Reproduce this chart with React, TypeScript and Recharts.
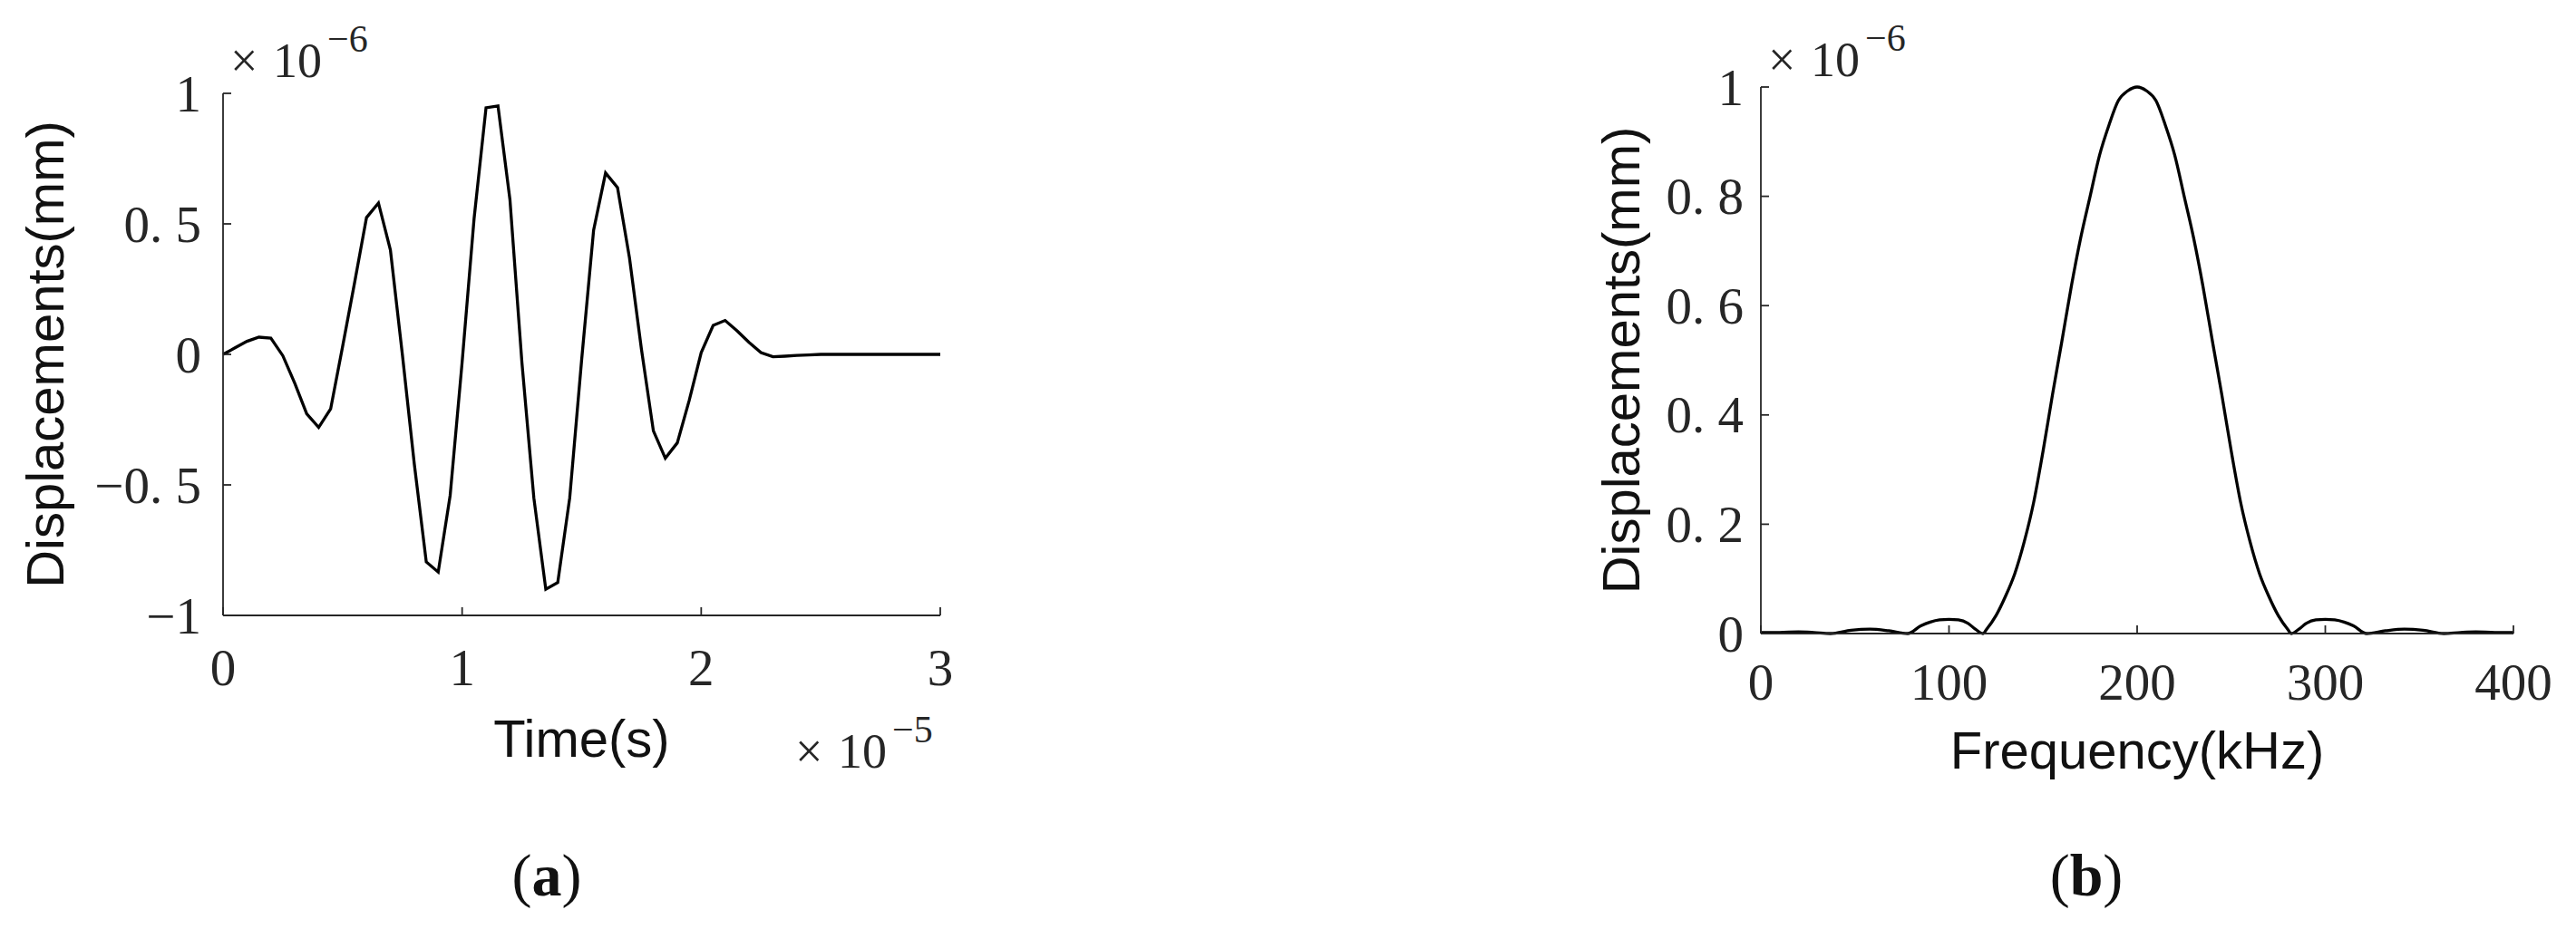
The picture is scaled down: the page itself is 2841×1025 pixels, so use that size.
import React from 'react'
import { LineChart, Line, XAxis, YAxis, Label } from 'recharts'

// (a) time signal: time in 1e-5 s, displacement in 1e-6 mm
const timeSteps = [
  0, 0.05, 0.1, 0.15, 0.2, 0.25, 0.3, 0.35, 0.4, 0.45, 0.5, 0.55, 0.6, 0.65, 0.7, 0.75, 0.8, 0.85, 0.9, 0.95,
  1, 1.05, 1.1, 1.15, 1.2, 1.25, 1.3, 1.35, 1.4, 1.45, 1.5, 1.55, 1.6, 1.65, 1.7, 1.75, 1.8, 1.85, 1.9, 1.95,
  2, 2.05, 2.1, 2.15, 2.2, 2.25, 2.3, 2.35, 2.4, 2.45, 2.5, 3,
]
const displacement = [
  0, 0.025, 0.05, 0.066, 0.062, -0.005, -0.111, -0.228, -0.28, -0.209, 0.03, 0.274, 0.524, 0.58, 0.4, 0.0, -0.42, -0.795, -0.834, -0.54,
  -0.03, 0.52, 0.945, 0.952, 0.593, -0.03, -0.55, -0.9, -0.874, -0.55, -0.02, 0.476, 0.695, 0.639, 0.37, 0.02, -0.293, -0.398, -0.339, -0.176,
  0.007, 0.111, 0.13, 0.09, 0.046, 0.007, -0.009, -0.007, -0.004, -0.002, 0, 0,
]

// (b) spectrum: frequency in kHz, amplitude in 1e-6 mm
const freqKHz = [
  0, 10, 20, 28, 37, 48, 58, 68, 78, 85, 90, 95, 100, 105, 110, 114, 118, 120, 125, 130, 135, 140, 145, 150, 155, 160,
  165, 170, 175, 180, 185, 190, 195, 200, 205, 210, 215, 220, 225, 230, 235, 240, 245, 250, 255, 260, 265, 270, 275,
  280, 282, 286, 290, 295, 300, 305, 310, 315, 322, 332, 342, 352, 363, 372, 380, 390, 400,
]
const amplitude = [
  0.002, 0.002, 0.003, 0.002, 0, 0.006, 0.008, 0.005, 0, 0.014, 0.021, 0.025, 0.026, 0.025, 0.019, 0.008, 0, 0.008, 0.033, 0.068, 0.11, 0.168, 0.24, 0.334, 0.437, 0.535,
  0.635, 0.724, 0.8, 0.875, 0.93, 0.975, 0.993, 1.0, 0.993, 0.975, 0.93, 0.875, 0.8, 0.724, 0.635, 0.535, 0.437, 0.334, 0.24, 0.168, 0.11, 0.068, 0.033,
  0.008, 0, 0.008, 0.019, 0.025, 0.026, 0.025, 0.021, 0.014, 0, 0.005, 0.008, 0.006, 0, 0.002, 0.003, 0.002, 0.002,
]

const timeTicks = [0, 1, 2, 3]
const dispTicks = [-1, -0.5, 0, 0.5, 1]
const freqTicks = [0, 100, 200, 300, 400]
const ampTicks = [0, 0.2, 0.4, 0.6, 0.8, 1]

const timeData = timeSteps.map((t, i) => ({ t, disp: displacement[i] }))
const freqData = freqKHz.map((f, i) => ({ f, amp: amplitude[i] }))

const INK = '#262626'
const TICK = 9
const serif = '"Liberation Serif", "Times New Roman", serif'
const sans = '"Liberation Sans", Arial, sans-serif'

// matlab-ish labels: "0. 5", "−0. 5"
const fmtTick = (v: number) => {
  if (v === 0) return '0'
  const a = Math.abs(v)
  const s = a === 1 ? '1' : `0. ${Math.round(a * 10)}`
  return v < 0 ? `\u2212${s}` : s
}

// ticks point inward like matlab, label sits at (x, y) given by recharts
const bottomTick = (gap: number) => (p: any) => (
  <g>
    <line x1={p.x} x2={p.x} y1={p.y - gap} y2={p.y - gap - TICK} stroke={INK} strokeWidth={1.8} />
    <text x={p.x} y={p.y} textAnchor="middle" dominantBaseline="central" fontFamily={serif} fontSize={57} fill={INK}>
      {String(p.payload.value)}
    </text>
  </g>
)
const topTick = (p: any) => <line x1={p.x} x2={p.x} y1={p.y} y2={p.y + TICK} stroke={INK} strokeWidth={1.8} />
const leftTick = (gap: number) => (p: any) => (
  <g>
    <line x1={p.x + gap} x2={p.x + gap + TICK} y1={p.y} y2={p.y} stroke={INK} strokeWidth={1.8} />
    <text x={p.x} y={p.y} textAnchor="end" dominantBaseline="central" fontFamily={serif} fontSize={57} fill={INK}>
      {fmtTick(p.payload.value)}
    </text>
  </g>
)
const rightTick = (p: any) => <line x1={p.x} x2={p.x - TICK} y1={p.y} y2={p.y} stroke={INK} strokeWidth={1.8} />

const xTitle = (text: string, dy: number) => (props: any) => {
  const vb = props.viewBox
  return (
    <text x={vb.x + vb.width / 2} y={vb.y + dy} textAnchor="middle" fontFamily={sans} fontSize={58} fill="#111">
      {text}
    </text>
  )
}
const yTitle = (text: string, dx: number) => (props: any) => {
  const vb = props.viewBox
  const x = vb.x + vb.width + dx
  const y = vb.y + vb.height / 2
  return (
    <text x={x} y={y} transform={`rotate(-90 ${x} ${y})`} textAnchor="middle" fontFamily={sans} fontSize={58} fill="#111">
      {text}
    </text>
  )
}

const axisLine = { stroke: INK, strokeWidth: 1.8 }

function TimePanel() {
  return (
    <LineChart width={1100} height={900} data={timeData} margin={{ top: 103, right: 63, bottom: 121, left: 146 }}>
      <XAxis xAxisId="b" dataKey="t" type="number" domain={[0, 3]} ticks={timeTicks} interval={0} height={100}
        tickSize={0} tickMargin={57} tickLine={false} axisLine={axisLine} tick={bottomTick(57)}>
        <Label content={xTitle('Time(s)', 156)} />
      </XAxis>
      <XAxis xAxisId="t" orientation="top" dataKey="t" type="number" domain={[0, 3]} ticks={timeTicks} interval={0} height={0}
        tickSize={0} tickMargin={0} tickLine={false} axisLine={axisLine} tick={topTick} allowDataOverflow />
      <YAxis yAxisId="l" type="number" domain={[-1, 1]} ticks={dispTicks} interval={0} width={100}
        tickSize={0} tickMargin={24} tickLine={false} axisLine={axisLine} tick={leftTick(24)}>
        <Label content={yTitle('Displacements(mm)', -176)} />
      </YAxis>
      <YAxis yAxisId="r" orientation="right" type="number" domain={[-1, 1]} ticks={dispTicks} interval={0} width={0}
        tickSize={0} tickMargin={0} tickLine={false} axisLine={axisLine} tick={rightTick} allowDataOverflow />
      <Line xAxisId="b" yAxisId="l" type="linear" dataKey="disp" stroke="#000" strokeWidth={3.3}
        dot={false} isAnimationActive={false} />
    </LineChart>
  )
}

function SpectrumPanel() {
  return (
    <LineChart width={1141} height={900} data={freqData} margin={{ top: 96, right: 69, bottom: 101, left: 142 }}>
      <XAxis xAxisId="b" dataKey="f" type="number" domain={[0, 400]} ticks={freqTicks} interval={0} height={100}
        tickSize={0} tickMargin={53} tickLine={false} axisLine={axisLine} tick={bottomTick(53)}>
        <Label content={xTitle('Frequency(kHz)', 149)} />
      </XAxis>
      <XAxis xAxisId="t" orientation="top" dataKey="f" type="number" domain={[0, 400]} ticks={freqTicks} interval={0} height={0}
        tickSize={0} tickMargin={0} tickLine={false} axisLine={axisLine} tick={topTick} allowDataOverflow />
      <YAxis yAxisId="l" type="number" domain={[0, 1]} ticks={ampTicks} interval={0} width={100}
        tickSize={0} tickMargin={19} tickLine={false} axisLine={axisLine} tick={leftTick(19)}>
        <Label content={yTitle('Displacements(mm)', -134)} />
      </YAxis>
      <YAxis yAxisId="r" orientation="right" type="number" domain={[0, 1]} ticks={ampTicks} interval={0} width={0}
        tickSize={0} tickMargin={0} tickLine={false} axisLine={axisLine} tick={rightTick} allowDataOverflow />
      <Line xAxisId="b" yAxisId="l" type="monotone" dataKey="amp" stroke="#000" strokeWidth={3.3}
        dot={false} isAnimationActive={false} />
    </LineChart>
  )
}

// exponent multiplier, e.g. ×10^-6
function Multiplier({ x, y, exp }: { x: number; y: number; exp: string }) {
  return (
    <text fontFamily={serif} fontSize={54} fill={INK}>
      <tspan x={x} y={y}>×</tspan>
      <tspan x={x + 47} y={y}>10</tspan>
      <tspan x={x + 107} y={y - 28} fontSize={42}>{exp}</tspan>
    </text>
  )
}

export default function App() {
  return (
    <div style={{ position: 'absolute', left: 0, top: 0, width: 2841, height: 1025, background: '#fff', overflow: 'hidden' }}>
      <div style={{ position: 'absolute', left: 0, top: 0 }}>
        <TimePanel />
      </div>
      <div style={{ position: 'absolute', left: 1700, top: 0 }}>
        <SpectrumPanel />
      </div>
      <svg width={2841} height={1025} style={{ position: 'absolute', left: 0, top: 0, pointerEvents: 'none' }}>
        <Multiplier x={254} y={85} exp={'\u22126'} />
        <Multiplier x={877} y={847} exp={'\u22125'} />
        <Multiplier x={1950} y={84} exp={'\u22126'} />
        <text x={603} y={988} textAnchor="middle" fontFamily={serif} fontSize={66} fill="#111">
          (<tspan fontWeight="bold">a</tspan>)
        </text>
        <text x={2301} y={988} textAnchor="middle" fontFamily={serif} fontSize={66} fill="#111">
          (<tspan fontWeight="bold">b</tspan>)
        </text>
      </svg>
    </div>
  )
}
